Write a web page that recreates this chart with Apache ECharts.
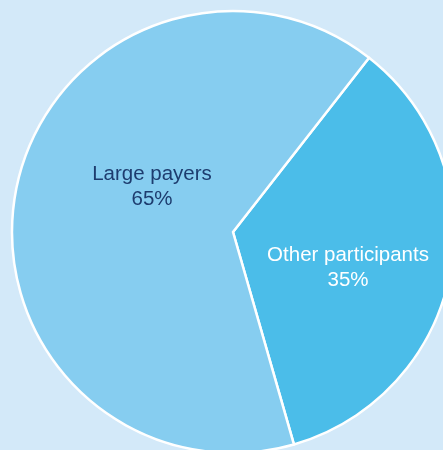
<!DOCTYPE html>
<html>
<head>
<meta charset="utf-8">
<script src="https://cdn.jsdelivr.net/npm/echarts@6/dist/echarts.min.js"></script>
<style>
  html, body { margin: 0; padding: 0; background: #d3e9f9; }
  #chart { width: 443px; height: 450px; }
</style>
</head>
<body>
<div id="chart"></div>
<script>
// Share of payment value by participant group
const categories = ['Other participants', 'Large payers'];
const shares = [35, 65];
const sliceColors = ['#4bbde9', '#86cdf0'];
const labelColors = ['#ffffff', '#1d3c6e'];
// Label anchor points (pixels) for each slice's text
const labelSpots = [[348, 268], [152, 187]];

const chart = echarts.init(document.getElementById('chart'), null, { renderer: 'canvas' });

chart.setOption({
  backgroundColor: '#d3e9f9',
  animation: false,
  series: [{
    type: 'pie',
    center: [233, 232],
    radius: [0, 221],
    startAngle: 52,
    clockwise: true,
    silent: true,
    data: categories.map((name, i) => ({
      name,
      value: shares[i],
      itemStyle: { color: sliceColors[i] },
      label: { color: labelColors[i] }
    })),
    itemStyle: { borderColor: '#ffffff', borderWidth: 2.5 },
    label: {
      show: true,
      position: 'inside',
      formatter: '{b}\n{c}%',
      fontFamily: 'Liberation Sans, Arial, sans-serif',
      fontSize: 20.5,
      lineHeight: 25,
      align: 'center'
    },
    labelLine: { show: false },
    labelLayout: function (params) {
      const p = labelSpots[params.dataIndex];
      return { x: p[0], y: p[1], align: 'center', verticalAlign: 'middle' };
    }
  }]
});
</script>
</body>
</html>
